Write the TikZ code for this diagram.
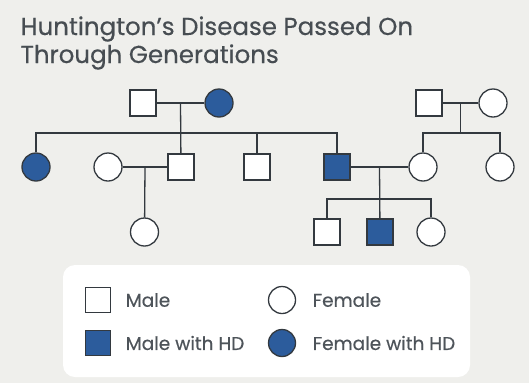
\documentclass[tikz,border=0pt]{standalone}
\usepackage{fontspec}
\setmainfont{Poppins}
\newfontfamily\titlefont{Poppins}[FakeBold=0.4]
\usetikzlibrary{positioning}
\definecolor{hdblue}{HTML}{2C5C9C}
\definecolor{ink}{HTML}{33393F}
\definecolor{paper}{HTML}{EFEFEC}
\definecolor{keygray}{HTML}{4E545A}

\begin{document}
\begin{tikzpicture}[x=1pt,y=-1pt,line width=1.3pt,color=ink,
  male/.style={draw,rectangle,minimum size=26pt,inner sep=0pt,fill=white},
  female/.style={draw,circle,minimum size=28pt,inner sep=0pt,fill=white},
  hd/.style={fill=hdblue},
  title/.style={anchor=base west,inner sep=0pt,text=ink!90,font=\titlefont\fontsize{24.5}{28}\selectfont},
  keytext/.style={inner sep=0pt,text=keygray,font=\titlefont\fontsize{18.5}{21}\selectfont}]
  \fill[paper] (0,0) rectangle (529,383);
  \useasboundingbox (0,0) rectangle (529,383);
  \node[title] (t1) at (20,35) {Huntington’s Disease Passed On};
  \node[title] (t2) at (20,63) {Through Generations};
  % first generation
  \node[male] (gf) at (143,103) {};
  \node[female,hd] (gm) at (219,103) {};
  \node[male] (rgf) at (429,103) {};
  \node[female] (rgm) at (493,103) {};
  % second generation
  \node[female,hd] (aunt) at (36,167) {};
  \node[female] (wife) at (108,167) {};
  \node[male] (son1) at (181,167) {};
  \node[male] (son2) at (257,167) {};
  \node[male,hd] (son3) at (337,167) {};
  \node[female] (dil) at (423,167) {};
  \node[female] (sis) at (500,167) {};
  % third generation
  \node[female] (gd) at (144.5,232) {};
  \node[male] (gs1) at (327,232) {};
  \node[male,hd] (gs2) at (380,232) {};
  \node[female] (gd2) at (431,232) {};
  \coordinate (bar1) at (0,133);
  \coordinate (bar2) at (0,199);
  \draw (gf) -- node[coordinate] (u1) {} (gm);
  \draw (u1) -- (son1);
  \draw (aunt) -- (aunt |- bar1) -| (son3);
  \draw (son2) -- (son2 |- bar1);
  \draw (rgf) -- node[coordinate] (u2) {} (rgm);
  \draw (u2) -- (u2 |- bar1);
  \draw (dil) -- (dil |- bar1) -| (sis);
  \draw (wife) -- node[coordinate] (u3) {} (son1);
  \draw (u3) -- (gd);
  \draw (son3) -- node[coordinate] (u4) {} (dil);
  \draw (u4) -- (gs2);
  \draw (gs1) -- (gs1 |- bar2) -| (gd2);
  % key
  \node[fill=white,rounded corners=12pt,minimum width=407pt,minimum height=112pt] (key) at (266.5,321) {};
  \node[male,minimum size=25pt] (km) at (98,300) {};
  \node[male,hd,minimum size=25pt] (kmhd) at (98,343) {};
  \node[female,minimum size=27pt] (kf) at (282,300) {};
  \node[female,hd,minimum size=27pt] (kfhd) at (282,343) {};
  \node[keytext,right=14pt of km] (lm) {Male};
  \node[keytext,right=14pt of kmhd] (lmhd) {Male with HD};
  \node[keytext,right=16pt of kf] (lf) {Female};
  \node[keytext,right=16pt of kfhd] (lfhd) {Female with HD};
\end{tikzpicture}
\end{document}
